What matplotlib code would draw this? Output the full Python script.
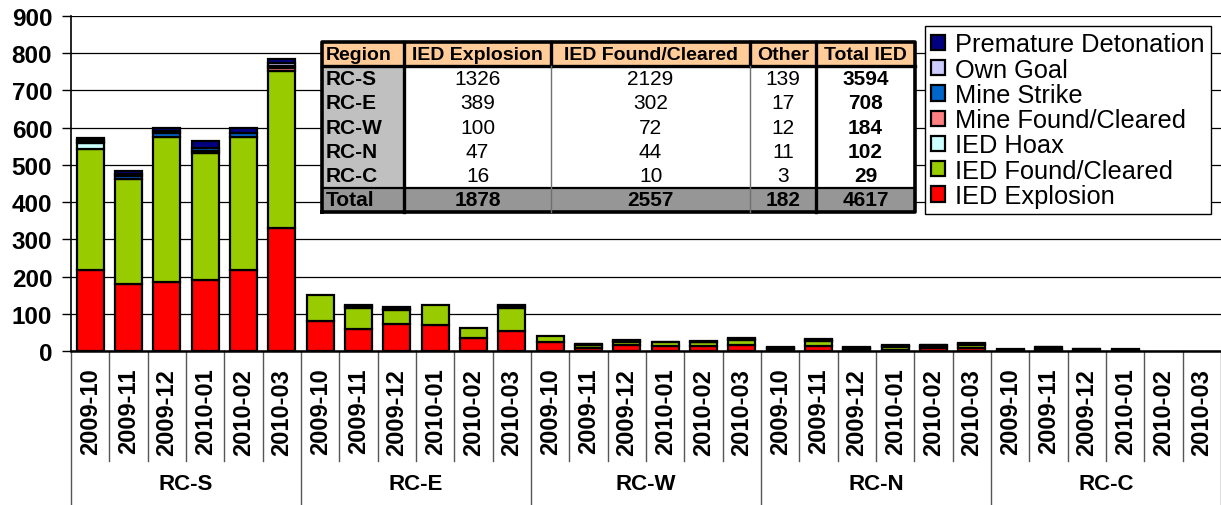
import matplotlib
matplotlib.use('Agg')
import matplotlib.pyplot as plt
import numpy as np

plt.rcParams['font.family'] = ['Liberation Sans', 'DejaVu Sans']

# categories
regions = ['RC-S', 'RC-E', 'RC-W', 'RC-N', 'RC-C']
months = ['2009-10', '2009-11', '2009-12', '2010-01', '2010-02', '2010-03']

# monthly values, 6 months per region (RC-S, RC-E, RC-W, RC-N, RC-C)
ied_explosion = [218, 181, 186, 192, 218, 331,
                 81, 59, 72, 70, 34, 54,
                 23, 9, 15, 14, 14, 15,
                 5, 13, 5, 4, 8, 8,
                 3, 6, 3, 3, 0, 0]
ied_found = [325, 281, 388, 340, 356, 422,
             70, 57, 39, 54, 27, 62,
             18, 6, 8, 10, 10, 14,
             4, 15, 4, 8, 5, 8,
             2, 4, 2, 2, 0, 0]
ied_hoax = [16, 0, 0, 0, 0, 0,
            0, 0, 0, 0, 0, 0,
            0, 0, 0, 0, 0, 0,
            0, 0, 0, 0, 0, 0,
            0, 0, 0, 0, 0, 0]
mine_found = [0, 0, 0, 5, 0, 6,
              0, 0, 0, 0, 0, 0,
              0, 0, 0, 0, 0, 0,
              0, 0, 0, 0, 0, 0,
              0, 0, 0, 0, 0, 0]
mine_strike = [2, 8, 12, 9, 12, 7,
               0, 4, 3, 0, 0, 4,
               0, 2, 4, 1, 1, 4,
               0, 2, 0, 2, 2, 2,
               0, 1, 0, 0, 0, 0]
own_goal = [6, 5, 5, 0, 0, 8,
            0, 0, 0, 0, 0, 0,
            0, 1, 0, 0, 0, 0,
            0, 2, 0, 0, 0, 0,
            0, 0, 0, 0, 0, 0]
premature = [5, 8, 8, 17, 13, 11,
             0, 4, 4, 0, 0, 4,
             0, 2, 3, 0, 1, 3,
             2, 0, 2, 2, 1, 3,
             0, 0, 1, 0, 0, 0]

# summary table
tbl_header = ['Region', 'IED Explosion', 'IED Found/Cleared', 'Other', 'Total IED']
tbl_explosion = [1326, 389, 100, 47, 16]
tbl_found = [2129, 302, 72, 44, 10]
tbl_other = [139, 17, 12, 11, 3]
tbl_total = [3594, 708, 184, 102, 29]
tbl_sum = ['Total', '1878', '2557', '182', '4617']

series = [
    ('IED Explosion', ied_explosion, '#FF0000'),
    ('IED Found/Cleared', ied_found, '#99CC00'),
    ('IED Hoax', ied_hoax, '#CCFFFF'),
    ('Mine Found/Cleared', mine_found, '#FF8080'),
    ('Mine Strike', mine_strike, '#0066CC'),
    ('Own Goal', own_goal, '#CCCCFF'),
    ('Premature Detonation', premature, '#000080'),
]

fig = plt.figure(figsize=(12.21, 5.06), dpi=100)
ax = fig.add_axes([71 / 1221, 154 / 506, 1150 / 1221, 335 / 506])

n = len(regions) * len(months)
x = np.arange(n)
bottom = np.zeros(n)
for name, vals, color in series:
    vals = np.array(vals, dtype=float)
    nz = vals > 0  # skip empty segments so they leave no edge line
    ax.bar(x[nz], vals[nz], 0.71, bottom=bottom[nz], color=color, edgecolor='black',
           linewidth=1.6, label=name, zorder=3)
    bottom += vals

ax.set_xlim(-0.5, n - 0.5)
ax.set_ylim(0, 900)
ax.set_yticks(range(0, 901, 100))
ax.yaxis.grid(True, color='black', linewidth=0.9)
ax.set_axisbelow(True)
for s in ['top', 'right']:
    ax.spines[s].set_visible(False)
ax.spines['left'].set_linewidth(1.2)
ax.spines['bottom'].set_linewidth(1.8)
ax.tick_params(axis='y', length=6.5, width=1, pad=7, labelsize=17.5)
for lab in ax.get_yticklabels():
    lab.set_fontweight('bold')

ax.set_xticks(x)
ax.set_xticklabels(months * len(regions), rotation=90, fontsize=17, fontweight='bold')
ax.tick_params(axis='x', length=0, pad=12)

# category separators below the axis
tr = ax.get_xaxis_transform()
for i in range(n + 1):
    xb = i - 0.5
    if i % 6 == 0:
        ax.plot([xb, xb], [0, -0.47], color='#555555', lw=1, transform=tr, clip_on=False)
    else:
        ax.plot([xb, xb], [0, -0.328], color='#555555', lw=1, transform=tr, clip_on=False)
for k, r in enumerate(regions):
    ax.text(k * 6 + 2.5, -0.397, r, transform=tr, ha='center', va='center',
            fontsize=16, fontweight='bold')

# legend
handles, labels = ax.get_legend_handles_labels()
leg = ax.legend(handles[::-1], labels[::-1], loc='upper left',
                bbox_to_anchor=(0.7426, 0.970), fontsize=18.3, frameon=True,
                fancybox=False, edgecolor='black', framealpha=1,
                borderpad=0.25, labelspacing=0.05, handlelength=0.55,
                handleheight=0.55, handletextpad=0.4, borderaxespad=0)
leg.get_frame().set_linewidth(1)
leg.set_zorder(6)

# table
rows = []
for i, r in enumerate(regions):
    rows.append([r, str(tbl_explosion[i]), str(tbl_found[i]), str(tbl_other[i]), str(tbl_total[i])])
rows.append(tbl_sum)
col_px = [82, 147, 199, 66, 99]
tx0, ty0, tw, th = 0.2183, 0.4149, 0.5157, 0.5075
tbl = ax.table(cellText=rows, colLabels=tbl_header, colWidths=col_px,
               cellLoc='center', bbox=[tx0, ty0, tw, th])
tbl.auto_set_font_size(False)
tbl.set_zorder(5)
for (r, c), cell in tbl.get_celld().items():
    cell.set_linewidth(0)
    cell.get_text().set_fontsize(15)
    if r == 0:
        cell.set_facecolor('#FFCC99')
        cell.get_text().set_fontweight('bold')
        cell.get_text().set_fontsize(14)
    elif r == len(rows):
        cell.set_facecolor('#969696')
        cell.get_text().set_fontweight('bold')
    elif c == 0:
        cell.set_facecolor('#C0C0C0')
        cell.get_text().set_fontweight('bold')
    else:
        cell.set_facecolor('white')
        if c == 4:
            cell.get_text().set_fontweight('bold')
    if c == 0:
        cell._loc = 'left'
        cell.PAD = 0.04
        cell.get_text().set_ha('left')

# table borders
total_px = sum(col_px)
xs = [tx0]
for w in col_px:
    xs.append(xs[-1] + tw * w / total_px)
rh = th / 7
y_top = ty0 + th
y_head = y_top - rh
y_sum = ty0 + rh
bl = dict(transform=ax.transAxes, clip_on=False, zorder=7, solid_capstyle='projecting')
ax.plot([xs[0], xs[-1], xs[-1], xs[0], xs[0]], [ty0, ty0, y_top, y_top, ty0], color='black', lw=2.6, **bl)
ax.plot([xs[0], xs[-1]], [y_head, y_head], color='black', lw=2.4, **bl)
ax.plot([xs[0], xs[-1]], [y_sum, y_sum], color='black', lw=1.6, **bl)
for j in [1, 4]:
    ax.plot([xs[j], xs[j]], [ty0, y_top], color='black', lw=2.4, **bl)
for j in [2, 3]:
    ax.plot([xs[j], xs[j]], [y_head, y_top], color='black', lw=2.4, **bl)
    ax.plot([xs[j], xs[j]], [ty0, y_head], color='#707070', lw=1.0, **bl)

fig.savefig('out.png', dpi=100)
